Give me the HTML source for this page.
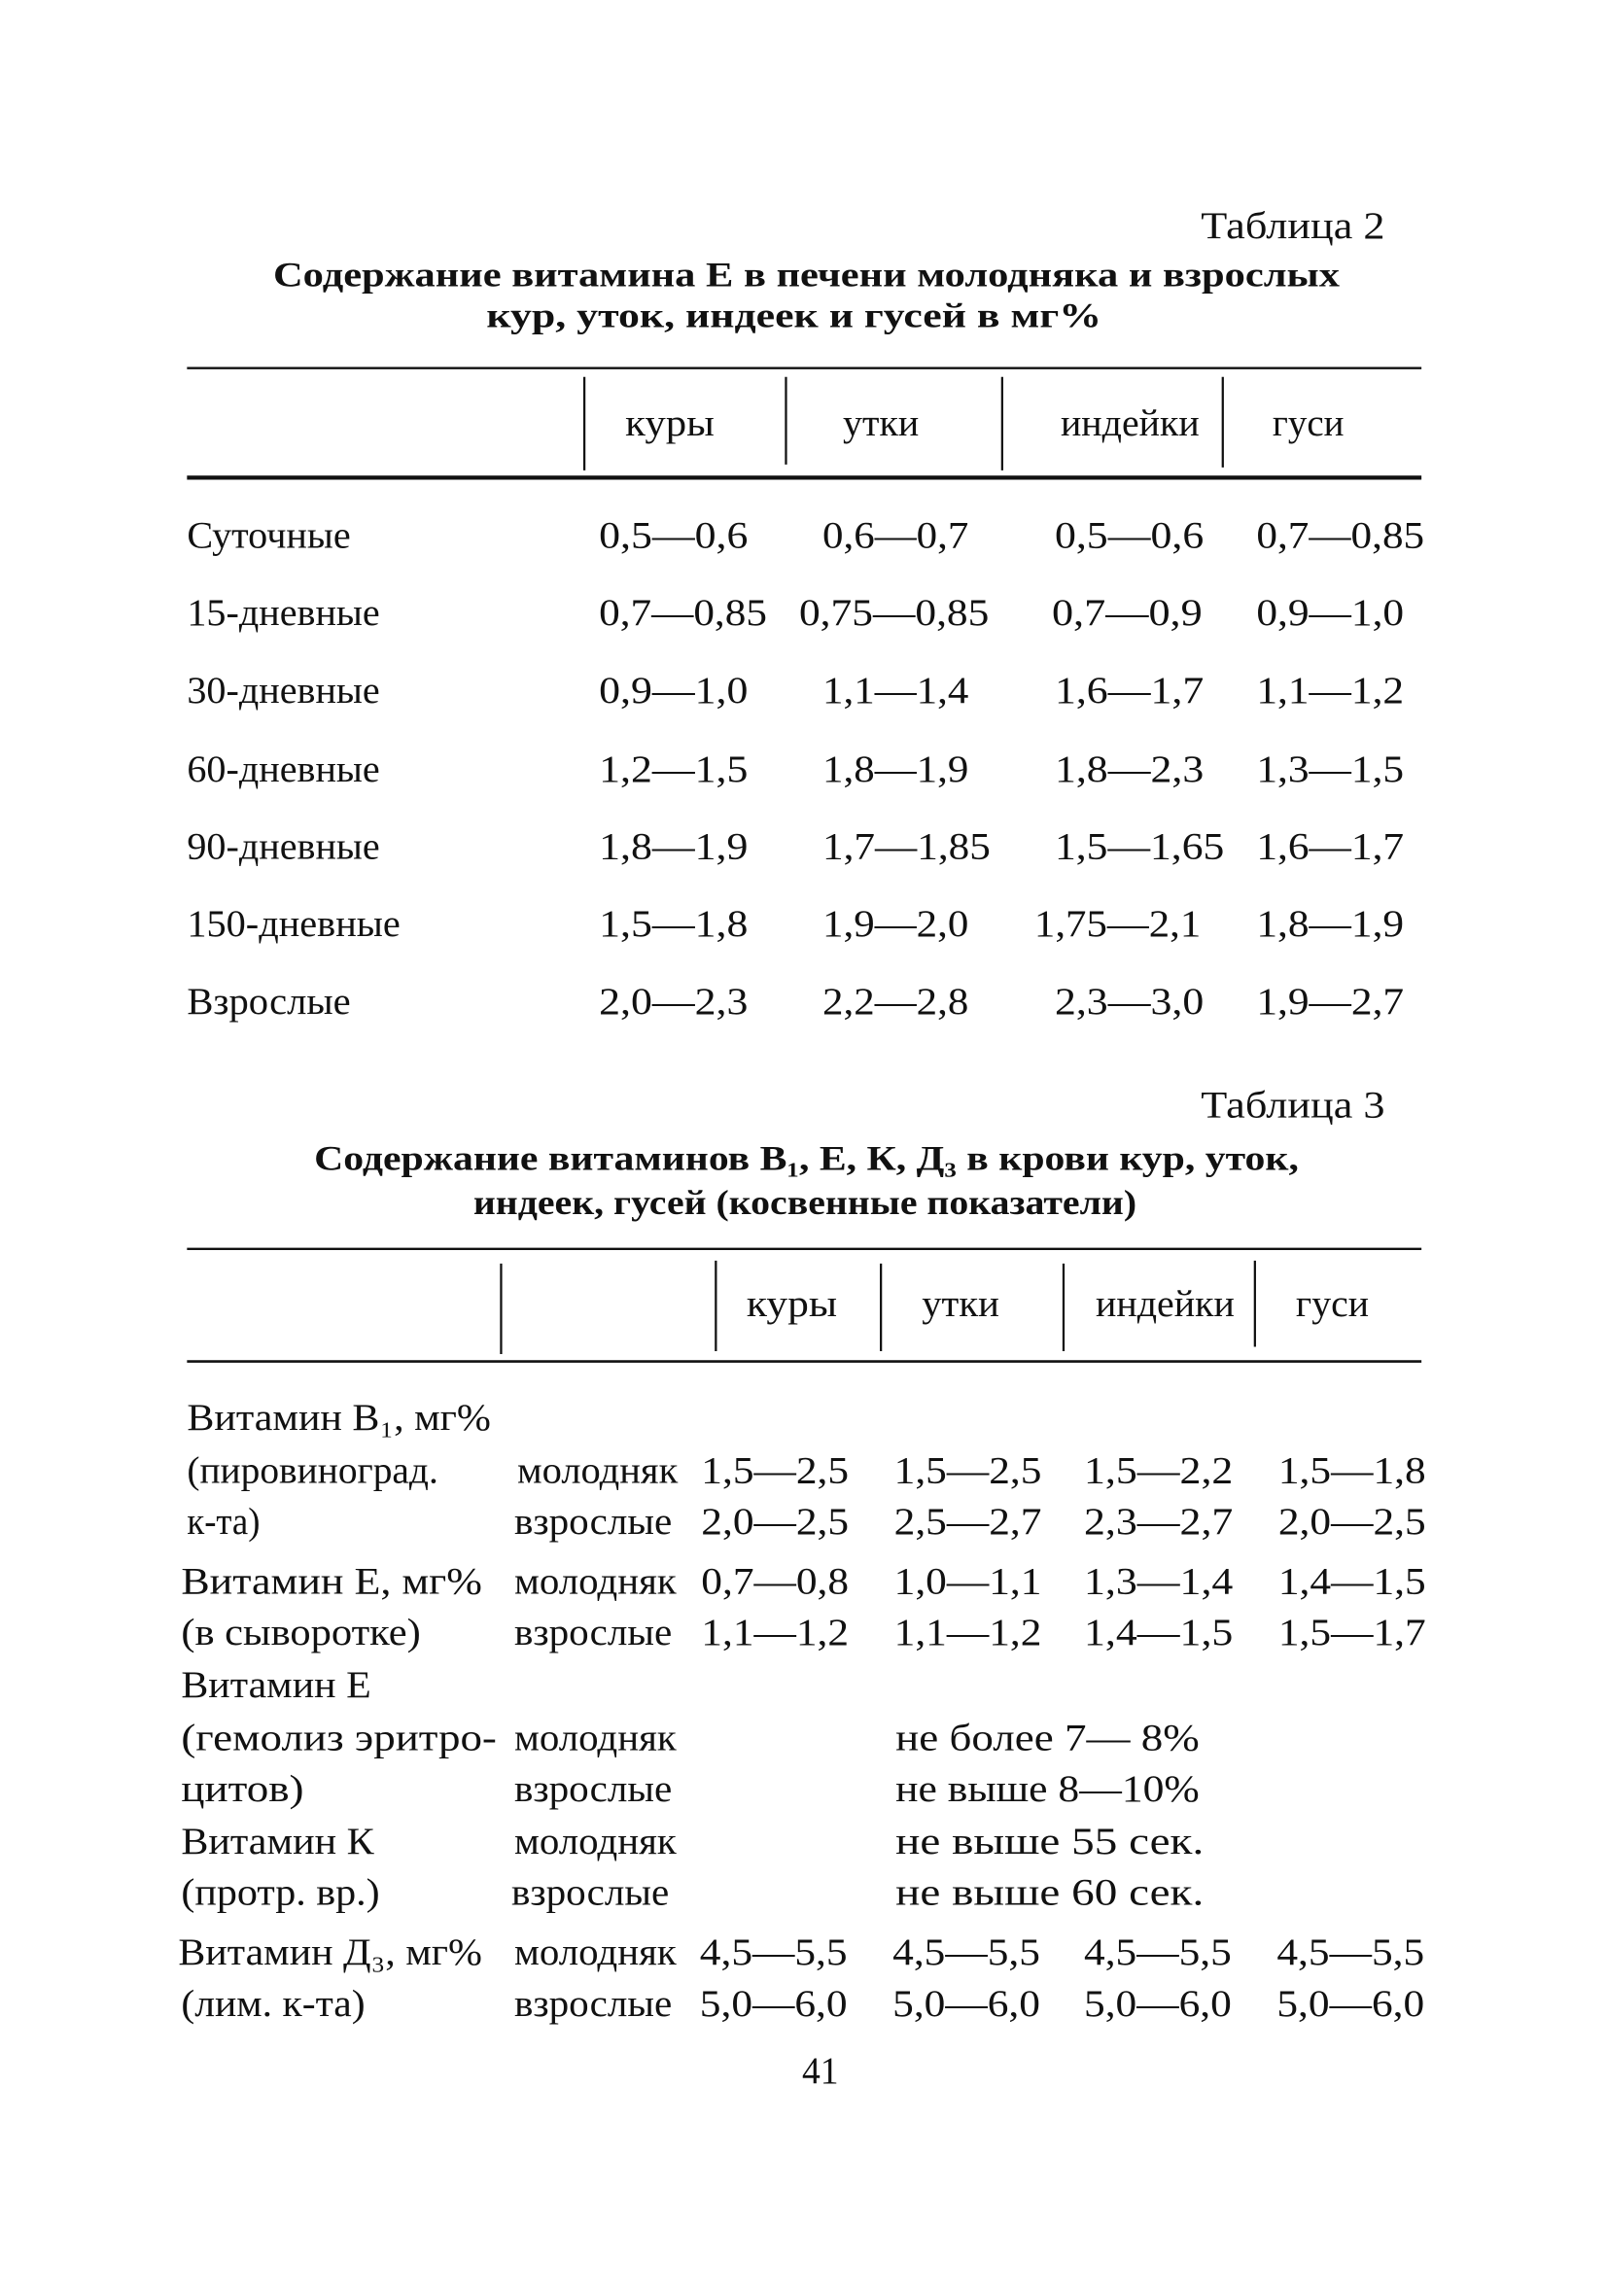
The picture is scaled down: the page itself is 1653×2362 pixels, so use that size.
<!DOCTYPE html>
<html><head><meta charset="utf-8"><style>
html,body{margin:0;padding:0;background:#fff;}
svg{display:block;}
text{font-family:"Liberation Serif","DejaVu Serif",serif;fill:#111;font-size:26px;}
.b{font-weight:bold;font-size:24px;}
</style></head><body>
<svg width="1653" height="2362" viewBox="0 0 1100 1571.8" preserveAspectRatio="none" xmlns="http://www.w3.org/2000/svg">
<g transform="translate(0,1)">
<!-- Table 2 -->
<text x="822" y="162" textLength="126" lengthAdjust="spacingAndGlyphs">Таблица 2</text>
<text class="b" x="187" y="195" textLength="730" lengthAdjust="spacingAndGlyphs">Содержание витамина Е в печени молодняка и взрослых</text>
<text class="b" x="333" y="223" textLength="421" lengthAdjust="spacingAndGlyphs">кур, уток, индеек и гусей в мг%</text>
<text x="428" y="297" textLength="61" lengthAdjust="spacingAndGlyphs">куры</text>
<text x="577" y="297" textLength="52" lengthAdjust="spacingAndGlyphs">утки</text>
<text x="726" y="297" textLength="95" lengthAdjust="spacingAndGlyphs">индейки</text>
<text x="871" y="297" textLength="49" lengthAdjust="spacingAndGlyphs">гуси</text>

<text x="128" y="374" textLength="112" lengthAdjust="spacingAndGlyphs">Суточные</text>
<text x="410" y="374" textLength="102" lengthAdjust="spacingAndGlyphs">0,5—0,6</text>
<text x="563" y="374" textLength="100" lengthAdjust="spacingAndGlyphs">0,6—0,7</text>
<text x="722" y="374" textLength="102" lengthAdjust="spacingAndGlyphs">0,5—0,6</text>
<text x="860" y="374" textLength="115" lengthAdjust="spacingAndGlyphs">0,7—0,85</text>

<text x="128" y="427" textLength="132" lengthAdjust="spacingAndGlyphs">15-дневные</text>
<text x="410" y="427" textLength="115" lengthAdjust="spacingAndGlyphs">0,7—0,85</text>
<text x="547" y="427" textLength="130" lengthAdjust="spacingAndGlyphs">0,75—0,85</text>
<text x="720" y="427" textLength="103" lengthAdjust="spacingAndGlyphs">0,7—0,9</text>
<text x="860" y="427" textLength="101" lengthAdjust="spacingAndGlyphs">0,9—1,0</text>

<text x="128" y="480" textLength="132" lengthAdjust="spacingAndGlyphs">30-дневные</text>
<text x="410" y="480" textLength="102" lengthAdjust="spacingAndGlyphs">0,9—1,0</text>
<text x="563" y="480" textLength="100" lengthAdjust="spacingAndGlyphs">1,1—1,4</text>
<text x="722" y="480" textLength="102" lengthAdjust="spacingAndGlyphs">1,6—1,7</text>
<text x="860" y="480" textLength="101" lengthAdjust="spacingAndGlyphs">1,1—1,2</text>

<text x="128" y="534" textLength="132" lengthAdjust="spacingAndGlyphs">60-дневные</text>
<text x="410" y="534" textLength="102" lengthAdjust="spacingAndGlyphs">1,2—1,5</text>
<text x="563" y="534" textLength="100" lengthAdjust="spacingAndGlyphs">1,8—1,9</text>
<text x="722" y="534" textLength="102" lengthAdjust="spacingAndGlyphs">1,8—2,3</text>
<text x="860" y="534" textLength="101" lengthAdjust="spacingAndGlyphs">1,3—1,5</text>

<text x="128" y="587" textLength="132" lengthAdjust="spacingAndGlyphs">90-дневные</text>
<text x="410" y="587" textLength="102" lengthAdjust="spacingAndGlyphs">1,8—1,9</text>
<text x="563" y="587" textLength="115" lengthAdjust="spacingAndGlyphs">1,7—1,85</text>
<text x="722" y="587" textLength="116" lengthAdjust="spacingAndGlyphs">1,5—1,65</text>
<text x="860" y="587" textLength="101" lengthAdjust="spacingAndGlyphs">1,6—1,7</text>

<text x="128" y="640" textLength="146" lengthAdjust="spacingAndGlyphs">150-дневные</text>
<text x="410" y="640" textLength="102" lengthAdjust="spacingAndGlyphs">1,5—1,8</text>
<text x="563" y="640" textLength="100" lengthAdjust="spacingAndGlyphs">1,9—2,0</text>
<text x="708" y="640" textLength="114" lengthAdjust="spacingAndGlyphs">1,75—2,1</text>
<text x="860" y="640" textLength="101" lengthAdjust="spacingAndGlyphs">1,8—1,9</text>

<text x="128" y="693" textLength="112" lengthAdjust="spacingAndGlyphs">Взрослые</text>
<text x="410" y="693" textLength="102" lengthAdjust="spacingAndGlyphs">2,0—2,3</text>
<text x="563" y="693" textLength="100" lengthAdjust="spacingAndGlyphs">2,2—2,8</text>
<text x="722" y="693" textLength="102" lengthAdjust="spacingAndGlyphs">2,3—3,0</text>
<text x="860" y="693" textLength="101" lengthAdjust="spacingAndGlyphs">1,9—2,7</text>

<!-- Table 3 -->
<text x="822" y="764" textLength="126" lengthAdjust="spacingAndGlyphs">Таблица 3</text>
<text class="b" x="215" y="800" textLength="674" lengthAdjust="spacingAndGlyphs">Содержание витаминов В₁, Е, К, Д₃ в крови кур, уток,</text>
<text class="b" x="324" y="830" textLength="454" lengthAdjust="spacingAndGlyphs">индеек, гусей (косвенные показатели)</text>
<text x="511" y="900" textLength="62" lengthAdjust="spacingAndGlyphs">куры</text>
<text x="631" y="900" textLength="53" lengthAdjust="spacingAndGlyphs">утки</text>
<text x="750" y="900" textLength="95" lengthAdjust="spacingAndGlyphs">индейки</text>
<text x="887" y="900" textLength="50" lengthAdjust="spacingAndGlyphs">гуси</text>

<text x="128" y="978" textLength="208" lengthAdjust="spacingAndGlyphs">Витамин В₁,  мг%</text>
<text x="128" y="1014" textLength="172" lengthAdjust="spacingAndGlyphs">(пировиноград.</text>
<text x="354" y="1014" textLength="110" lengthAdjust="spacingAndGlyphs">молодняк</text>
<text x="480" y="1014" textLength="101" lengthAdjust="spacingAndGlyphs">1,5—2,5</text>
<text x="612" y="1014" textLength="101" lengthAdjust="spacingAndGlyphs">1,5—2,5</text>
<text x="742" y="1014" textLength="102" lengthAdjust="spacingAndGlyphs">1,5—2,2</text>
<text x="875" y="1014" textLength="101" lengthAdjust="spacingAndGlyphs">1,5—1,8</text>

<text x="128" y="1049" textLength="50" lengthAdjust="spacingAndGlyphs">к-та)</text>
<text x="352" y="1049" textLength="108" lengthAdjust="spacingAndGlyphs">взрослые</text>
<text x="480" y="1049" textLength="101" lengthAdjust="spacingAndGlyphs">2,0—2,5</text>
<text x="612" y="1049" textLength="101" lengthAdjust="spacingAndGlyphs">2,5—2,7</text>
<text x="742" y="1049" textLength="102" lengthAdjust="spacingAndGlyphs">2,3—2,7</text>
<text x="875" y="1049" textLength="101" lengthAdjust="spacingAndGlyphs">2,0—2,5</text>

<text x="124" y="1090" textLength="206" lengthAdjust="spacingAndGlyphs">Витамин Е, мг%</text>
<text x="352" y="1090" textLength="111" lengthAdjust="spacingAndGlyphs">молодняк</text>
<text x="480" y="1090" textLength="101" lengthAdjust="spacingAndGlyphs">0,7—0,8</text>
<text x="612" y="1090" textLength="101" lengthAdjust="spacingAndGlyphs">1,0—1,1</text>
<text x="742" y="1090" textLength="102" lengthAdjust="spacingAndGlyphs">1,3—1,4</text>
<text x="875" y="1090" textLength="101" lengthAdjust="spacingAndGlyphs">1,4—1,5</text>

<text x="124" y="1125" textLength="164" lengthAdjust="spacingAndGlyphs">(в сыворотке)</text>
<text x="352" y="1125" textLength="108" lengthAdjust="spacingAndGlyphs">взрослые</text>
<text x="480" y="1125" textLength="101" lengthAdjust="spacingAndGlyphs">1,1—1,2</text>
<text x="612" y="1125" textLength="101" lengthAdjust="spacingAndGlyphs">1,1—1,2</text>
<text x="742" y="1125" textLength="102" lengthAdjust="spacingAndGlyphs">1,4—1,5</text>
<text x="875" y="1125" textLength="101" lengthAdjust="spacingAndGlyphs">1,5—1,7</text>

<text x="124" y="1161" textLength="130" lengthAdjust="spacingAndGlyphs">Витамин Е</text>

<text x="124" y="1197" textLength="216" lengthAdjust="spacingAndGlyphs">(гемолиз  эритро-</text>
<text x="352" y="1197" textLength="111" lengthAdjust="spacingAndGlyphs">молодняк</text>
<text x="613" y="1197" textLength="208" lengthAdjust="spacingAndGlyphs">не более 7— 8%</text>

<text x="124" y="1232" textLength="84" lengthAdjust="spacingAndGlyphs">цитов)</text>
<text x="352" y="1232" textLength="108" lengthAdjust="spacingAndGlyphs">взрослые</text>
<text x="613" y="1232" textLength="208" lengthAdjust="spacingAndGlyphs">не выше 8—10%</text>

<text x="124" y="1268" textLength="132" lengthAdjust="spacingAndGlyphs">Витамин К</text>
<text x="352" y="1268" textLength="111" lengthAdjust="spacingAndGlyphs">молодняк</text>
<text x="613" y="1268" textLength="211" lengthAdjust="spacingAndGlyphs">не  выше  55  сек.</text>

<text x="124" y="1303" textLength="136" lengthAdjust="spacingAndGlyphs">(протр. вр.)</text>
<text x="350" y="1303" textLength="108" lengthAdjust="spacingAndGlyphs">взрослые</text>
<text x="613" y="1303" textLength="211" lengthAdjust="spacingAndGlyphs">не  выше  60  сек.</text>

<text x="122" y="1344" textLength="208" lengthAdjust="spacingAndGlyphs">Витамин Д₃, мг%</text>
<text x="352" y="1344" textLength="111" lengthAdjust="spacingAndGlyphs">молодняк</text>
<text x="479" y="1344" textLength="101" lengthAdjust="spacingAndGlyphs">4,5—5,5</text>
<text x="611" y="1344" textLength="101" lengthAdjust="spacingAndGlyphs">4,5—5,5</text>
<text x="742" y="1344" textLength="101" lengthAdjust="spacingAndGlyphs">4,5—5,5</text>
<text x="874" y="1344" textLength="101" lengthAdjust="spacingAndGlyphs">4,5—5,5</text>

<text x="124" y="1379" textLength="126" lengthAdjust="spacingAndGlyphs">(лим. к-та)</text>
<text x="352" y="1379" textLength="108" lengthAdjust="spacingAndGlyphs">взрослые</text>
<text x="479" y="1379" textLength="101" lengthAdjust="spacingAndGlyphs">5,0—6,0</text>
<text x="611" y="1379" textLength="101" lengthAdjust="spacingAndGlyphs">5,0—6,0</text>
<text x="742" y="1379" textLength="101" lengthAdjust="spacingAndGlyphs">5,0—6,0</text>
<text x="874" y="1379" textLength="101" lengthAdjust="spacingAndGlyphs">5,0—6,0</text>

<text x="549" y="1425" textLength="25" lengthAdjust="spacingAndGlyphs">41</text>
</g>
<line x1="128" y1="252" x2="973" y2="252" stroke="#111" stroke-width="1.6"/>
<g stroke="#111" stroke-width="1.5">
<line x1="400" y1="258" x2="400" y2="322"/><line x1="538" y1="258" x2="538" y2="318"/>
<line x1="686" y1="258" x2="686" y2="322"/><line x1="837" y1="258" x2="837" y2="320"/>
</g>
<line x1="128" y1="327" x2="973" y2="327" stroke="#111" stroke-width="2.8"/>
<line x1="128" y1="855" x2="973" y2="855" stroke="#111" stroke-width="1.6"/>
<g stroke="#111" stroke-width="1.5">
<line x1="343" y1="865" x2="343" y2="927"/><line x1="490" y1="863" x2="490" y2="925"/>
<line x1="603" y1="865" x2="603" y2="925"/><line x1="728" y1="865" x2="728" y2="925"/>
<line x1="859" y1="863" x2="859" y2="922"/>
</g>
<line x1="128" y1="932" x2="973" y2="932" stroke="#111" stroke-width="1.8"/>
</svg>
</body></html>
